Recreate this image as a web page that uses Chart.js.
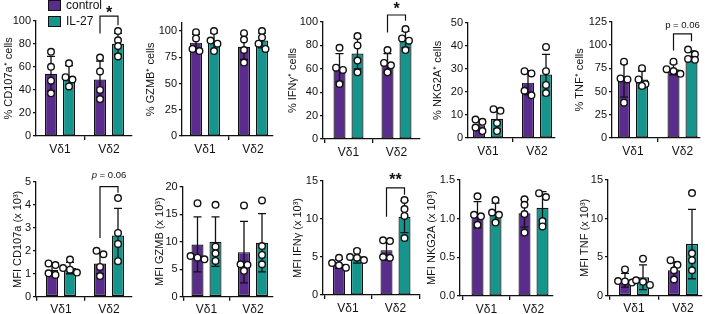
<!DOCTYPE html>
<html>
<head>
<meta charset="utf-8">
<script src="https://cdn.jsdelivr.net/npm/chart.js@4.4.1/dist/chart.umd.min.js"></script>
<style>
  html, body { margin: 0; padding: 0; background: #fff; }
  #fig { position: relative; width: 705px; height: 314px; overflow: hidden;
         font-family: 'Liberation Sans', Arial, sans-serif; }
  #fig canvas { position: absolute; }
  .leg { position: absolute; left: 48px; font-size: 12px; color: #111; line-height: 11px; white-space: nowrap; }
  .leg i { display: inline-block; width: 13px; height: 11px; border: 1px solid #111; box-sizing: border-box;
           vertical-align: top; margin-right: 5px; }
</style>
</head>
<body>
<div id="fig">
  <div class="leg" style="top:0px"><i style="background:#5a2d8c"></i>control</div>
  <div class="leg" style="top:16px"><i style="background:#16958d"></i>IL-27</div>
</div>
<script>
'use strict';

// ── Data ─────────────────────────────────────────────
const categories = ['Vδ1', 'Vδ2'];
const groups = ['control', 'IL-27'];

// each: [control, IL-27] x [Vδ1, Vδ2]
const pctCD107aMean = [[54, 49], [52, 80]];
const pctCD107aSD   = [[15, 16], [9, 9]];
const pctCD107aPts  = [[[73, 60, 48, 37], [68, 56, 40, 32]], [[63, 51, 49, 43], [91, 83, 78, 69]]];

const pctGZMBMean = [[89, 85], [90, 91]];
const pctGZMBSD   = [[8, 12], [8, 7]];
const pctGZMBPts  = [[[99, 93, 83, 81], [98, 92, 82, 70]], [[100, 91, 88, 81], [100, 94, 88, 83]]];

const pctIFNgMean = [[61, 65], [73, 85]];
const pctIFNgSD   = [[12, 8], [13, 7]];
const pctIFNgPts  = [[[78, 61, 59, 47], [76, 65, 63, 57]], [[88, 80, 67, 57], [94, 86, 84, 76]]];

const pctNKG2AMean = [[5.5, 24], [8.3, 27.5]];
const pctNKG2ASD   = [[2.3, 5.2], [4.5, 8.8]];
const pctNKG2APts  = [[[8, 7, 4.5, 3], [29, 28, 20.5, 18.5]], [[12.5, 11.8, 6.5, 3], [39.5, 29, 23, 19.5]]];

const pctTNFMean = [[62, 74], [63, 88]];
const pctTNFSD   = [[18, 6], [9, 5.5]];
const pctTNFPts  = [[[82, 64, 63, 38], [82, 74, 72, 69]], [[75, 63, 58, 56], [95, 90, 85, 84]]];

const mfiCD107aMean = [[1.17, 1.45], [1.25, 2.67]];
const mfiCD107aSD   = [[0.25, 0.45], [0.25, 1.18]];
const mfiCD107aPts  = [[[1.45, 1.38, 1.02, 0.95], [2.0, 1.85, 1.3, 0.9]], [[1.62, 1.25, 1.18, 1.05], [4.3, 2.78, 2.3, 1.55]]];

const mfiGZMBMean = [[9.5, 8.1], [10, 9.8]];
const mfiGZMBSD   = [[5, 5.6], [4.5, 5.3]];
const mfiGZMBPts  = [[[17, 7.4, 7.1, 6.8], [16.6, 5.9, 5.8, 4.7]], [[16.7, 9.1, 7.9, 6.5], [17.5, 9.2, 7.6, 5.9]]];

const mfiIFNgMean = [[4.1, 5.9], [5.1, 10.3]];
const mfiIFNgSD   = [[0.6, 1.3], [0.9, 2.1]];
const mfiIFNgPts  = [[[4.9, 4.2, 3.9, 3.6], [7.2, 7.1, 5.0, 4.9]], [[5.8, 5.0, 4.9, 4.6], [12.5, 11.3, 10.4, 7.5]]];

const mfiNKG2AMean = [[1.05, 1.07], [1.08, 1.14]];
const mfiNKG2ASD   = [[0.17, 0.18], [0.12, 0.21]];
const mfiNKG2APts  = [[[1.29, 1.05, 1.03, 0.92], [1.25, 1.18, 1.06, 0.82]], [[1.24, 1.08, 1.05, 0.95], [1.33, 1.28, 0.97, 0.90]]];

const mfiTNFMean = [[2.0, 3.3], [2.4, 6.7]];
const mfiTNFSD   = [[0.9, 1.1], [1.6, 4.5]];
const mfiTNFPts  = [[[3.4, 1.9, 1.85, 1.7], [4.6, 4.0, 3.3, 2.1]], [[4.8, 2.0, 1.8, 1.4], [13.3, 5.5, 4.6, 3.3]]];

// tick labels
const ticks100by20 = [0, 20, 40, 60, 80, 100];
const ticks100by25 = [0, 25, 50, 75, 100];
const ticks50 = [0, 10, 20, 30, 40, 50];
const ticks125 = [0, 25, 50, 75, 100, 125];
const ticks5 = [0, 1, 2, 3, 4, 5];
const ticks20 = [0, 5, 10, 15, 20];
const ticks15 = [0, 5, 10, 15];
const ticks15dec = [0, 0.5, 1.0, 1.5];

const COLORS = ['#5a2d8c', '#16958d'];
const INK = '#111';
const FONT = "'Liberation Sans', Arial, sans-serif";

// ── Panels (geometry in page px) ─────────────────────
// A/B = x-axis ends, c1/c2 = group centres, top/base = chart area top / zero line
const panels = [
  { title: '% CD107a⁺ cells', mean: pctCD107aMean, sd: pctCD107aSD, pts: pctCD107aPts, ticks: ticks100by20, yMax: 100,
    cx: 0, cy: 0, A: 36, B: 132, c1: 60, c2: 109, top: 20.7, base: 136, titleX: 9,
    sig: { label: '*', bold: true, text: 109, top: 104, left: 89, right: 96 } },
  { title: '% GZMB⁺ cells', mean: pctGZMBMean, sd: pctGZMBSD, pts: pctGZMBPts, ticks: ticks100by25, yMax: 108,
    cx: 141, cy: 0, A: 182, B: 273, c1: 205, c2: 253, top: 22.7, base: 136, titleX: 151 },
  { title: '% IFNγ⁺ cells', mean: pctIFNgMean, sd: pctIFNgSD, pts: pctIFNgPts, ticks: ticks100by20, yMax: 100,
    cx: 282, cy: 0, A: 323, B: 420, c1: 348.5, c2: 396.5, top: 22, base: 139, titleX: 293,
    sig: { label: '*', bold: true, text: 113, top: 106, left: 91, right: 101 } },
  { title: '% NKG2A⁺ cells', mean: pctNKG2AMean, sd: pctNKG2ASD, pts: pctNKG2APts, ticks: ticks50, yMax: 50,
    cx: 423, cy: 0, A: 468, B: 555, c1: 488, c2: 537, top: 22.7, base: 138, titleX: 438 },
  { title: '% TNF⁺ cells', mean: pctTNFMean, sd: pctTNFSD, pts: pctTNFPts, ticks: ticks125, yMax: 125,
    cx: 564, cy: 0, A: 612, B: 700, c1: 633, c2: 682.5, top: 21.7, base: 138, titleX: 580,
    sig: { label: 'p = 0.06', text: 121, top: 112, left: 94, right: 104 } },
  { title: 'MFI CD107a (x 10³)', mean: mfiCD107aMean, sd: mfiCD107aSD, pts: mfiCD107aPts, ticks: ticks5, yMax: 5,
    cx: 0, cy: 157, A: 36, B: 132, c1: 61, c2: 109, top: 182, base: 296.7, titleX: 18,
    sig: { label: 'p = 0.06', italicP: true, text: 5.28, top: 4.8, left: 2.56, right: 4.53 } },
  { title: 'MFI GZMB (x 10³)', mean: mfiGZMBMean, sd: mfiGZMBSD, pts: mfiGZMBPts, ticks: ticks20, yMax: 20,
    cx: 141, cy: 157, A: 182.7, B: 273, c1: 206.5, c2: 253, top: 186.7, base: 296.7, titleX: 160 },
  { title: 'MFI IFNγ (x 10³)', mean: mfiIFNgMean, sd: mfiIFNgSD, pts: mfiIFNgPts, ticks: ticks15, yMax: 15,
    cx: 282, cy: 157, A: 323, B: 420, c1: 348, c2: 395.5, top: 181, base: 295, titleX: 298,
    sig: { label: '**', bold: true, text: 15.4, top: 14.1, left: 10.3, right: 13.2 } },
  { title: 'MFI NKG2A (x 10³)', mean: mfiNKG2AMean, sd: mfiNKG2ASD, pts: mfiNKG2APts, ticks: ticks15dec, yMax: 1.5, dec: 1,
    cx: 423, cy: 157, A: 460, B: 553, c1: 486.5, c2: 533.5, top: 180, base: 296, titleX: 432 },
  { title: 'MFI TNF (x 10³)', mean: mfiTNFMean, sd: mfiTNFSD, pts: mfiTNFPts, ticks: ticks15, yMax: 15,
    cx: 564, cy: 157, A: 608, B: 702, c1: 634, c2: 683, top: 180, base: 295.7, titleX: 585 }
];

const CW = 141, CH = 157;
const DOT_R = 3.3;

// points that nearly overlap vertically are spread symmetrically, GraphPad style
function jitter(ys, r) {
  const order = ys.map((v, i) => i).sort((a, b) => ys[a] - ys[b]);
  const dx = new Array(ys.length).fill(0);
  let run = [order[0]];
  const flush = () => {
    const n = run.length;
    run.forEach((idx, k) => { dx[idx] = (k - (n - 1) / 2) * r * 2.1; });
  };
  for (let i = 1; i < order.length; i++) {
    if (ys[order[i]] - ys[run[0]] < r * 1.6) run.push(order[i]);
    else { flush(); run = [order[i]]; }
  }
  flush();
  return dx;
}

function drawMarks(chart, p) {
  const ctx = chart.ctx, y = chart.scales.y;
  ctx.save();
  ctx.strokeStyle = INK;
  chart.data.datasets.forEach((ds, gi) => {
    chart.getDatasetMeta(gi).data.forEach((bar, ci) => {
      const m = p.mean[gi][ci], sd = p.sd[gi][ci], x = bar.x;
      const yt = y.getPixelForValue(m + sd), yb = y.getPixelForValue(Math.max(m - sd, 0));
      ctx.lineWidth = 1.3;
      ctx.beginPath();
      ctx.moveTo(x, yt); ctx.lineTo(x, yb);
      ctx.moveTo(x - 4, yt); ctx.lineTo(x + 4, yt);
      ctx.moveTo(x - 4, yb); ctx.lineTo(x + 4, yb);
      ctx.stroke();

      const ys = p.pts[gi][ci].map(v => y.getPixelForValue(v));
      const dxs = jitter(ys, DOT_R);
      ctx.lineWidth = 1.4;
      ys.forEach((py, k) => {
        ctx.beginPath();
        ctx.arc(x + dxs[k], py, DOT_R, 0, Math.PI * 2);
        ctx.fillStyle = '#fff';
        ctx.fill();
        ctx.stroke();
      });
    });
  });
  ctx.restore();
}

function drawSig(chart, p) {
  const s = p.sig;
  if (!s) return;
  const ctx = chart.ctx, y = chart.scales.y;
  const x1 = chart.getDatasetMeta(0).data[1].x;
  const x2 = chart.getDatasetMeta(1).data[1].x;
  const yTop = y.getPixelForValue(s.top);
  ctx.save();
  ctx.strokeStyle = INK;
  ctx.lineWidth = 1.2;
  ctx.beginPath();
  ctx.moveTo(x1, y.getPixelForValue(s.left));
  ctx.lineTo(x1, yTop);
  ctx.lineTo(x2, yTop);
  ctx.lineTo(x2, y.getPixelForValue(s.right));
  ctx.stroke();

  ctx.fillStyle = INK;
  ctx.textBaseline = 'middle';
  const cx = (x1 + x2) / 2, ty = y.getPixelForValue(s.text);
  if (s.bold) {
    ctx.font = 'bold 16px ' + FONT;
    ctx.textAlign = 'center';
    ctx.fillText(s.label, cx, ty + 3);
  } else if (s.italicP) {
    const rest = s.label.slice(1);
    ctx.font = 'italic 9.5px ' + FONT;
    const w1 = ctx.measureText('p').width;
    ctx.font = '9.5px ' + FONT;
    const w2 = ctx.measureText(rest).width;
    const x0 = cx - (w1 + w2) / 2;
    ctx.textAlign = 'left';
    ctx.font = 'italic 9.5px ' + FONT;
    ctx.fillText('p', x0, ty);
    ctx.font = '9.5px ' + FONT;
    ctx.fillText(rest, x0 + w1, ty);
  } else {
    ctx.font = '9.5px ' + FONT;
    ctx.textAlign = 'center';
    ctx.fillText(s.label, cx, ty);
  }
  ctx.restore();
}

const fig = document.getElementById('fig');

panels.forEach(p => {
  const cv = document.createElement('canvas');
  cv.width = CW; cv.height = CH;
  cv.style.left = p.cx + 'px';
  cv.style.top = p.cy + 'px';
  fig.insertBefore(cv, fig.firstChild);

  const S = p.c2 - p.c1;
  const xMin = 1 - (p.c1 - p.A) / S;
  const xMax = 2 + (p.B - p.c2) / S;
  const padLeft = p.titleX - p.cx - 6.6;
  const fmtTick = v => p.dec ? v.toFixed(p.dec) : String(v);

  new Chart(cv, {
    type: 'bar',
    data: {
      datasets: groups.map((g, gi) => ({
        label: g,
        data: categories.map((c, ci) => ({ x: ci + 1, y: p.mean[gi][ci] })),
        backgroundColor: COLORS[gi],
        borderColor: INK,
        borderWidth: 1.2,
        borderSkipped: false,
        categoryPercentage: 36 / S,
        barPercentage: 0.667
      }))
    },
    options: {
      responsive: false,
      animation: false,
      devicePixelRatio: 1,
      layout: { padding: { left: padLeft, right: p.cx + CW - p.B, top: p.top - p.cy, bottom: 0 } },
      plugins: { legend: { display: false }, tooltip: { enabled: false } },
      scales: {
        x: {
          type: 'linear', min: xMin, max: xMax, offset: false,
          afterBuildTicks: s => { s.ticks = categories.map((c, i) => ({ value: i + 1 })); },
          afterFit: s => { s.height = p.cy + CH - p.base; },
          ticks: { callback: v => categories[Math.round(v) - 1], color: INK, autoSkip: false, maxRotation: 0,
                   padding: 2, font: { family: FONT, size: 12 } },
          grid: { drawOnChartArea: false, drawTicks: true, tickLength: 4, color: INK, lineWidth: 1.3 },
          border: { display: true, color: INK, width: 1.3 }
        },
        y: {
          min: 0, max: p.yMax,
          afterBuildTicks: s => { s.ticks = p.ticks.map(v => ({ value: v })); },
          afterFit: s => { s.width = p.A - p.cx - padLeft; },
          ticks: { callback: fmtTick, color: INK, padding: 2, font: { family: FONT, size: 11 } },
          title: { display: true, text: p.title, color: INK, padding: 0, font: { family: FONT, size: 11 } },
          grid: { drawOnChartArea: false, drawTicks: true, tickLength: 3, color: INK, lineWidth: 1.3 },
          border: { display: true, color: INK, width: 1.3 }
        }
      }
    },
    plugins: [{
      id: 'marks',
      afterDatasetsDraw: chart => drawMarks(chart, p),
      afterDraw: chart => drawSig(chart, p)
    }]
  });
});
</script>
</body>
</html>
